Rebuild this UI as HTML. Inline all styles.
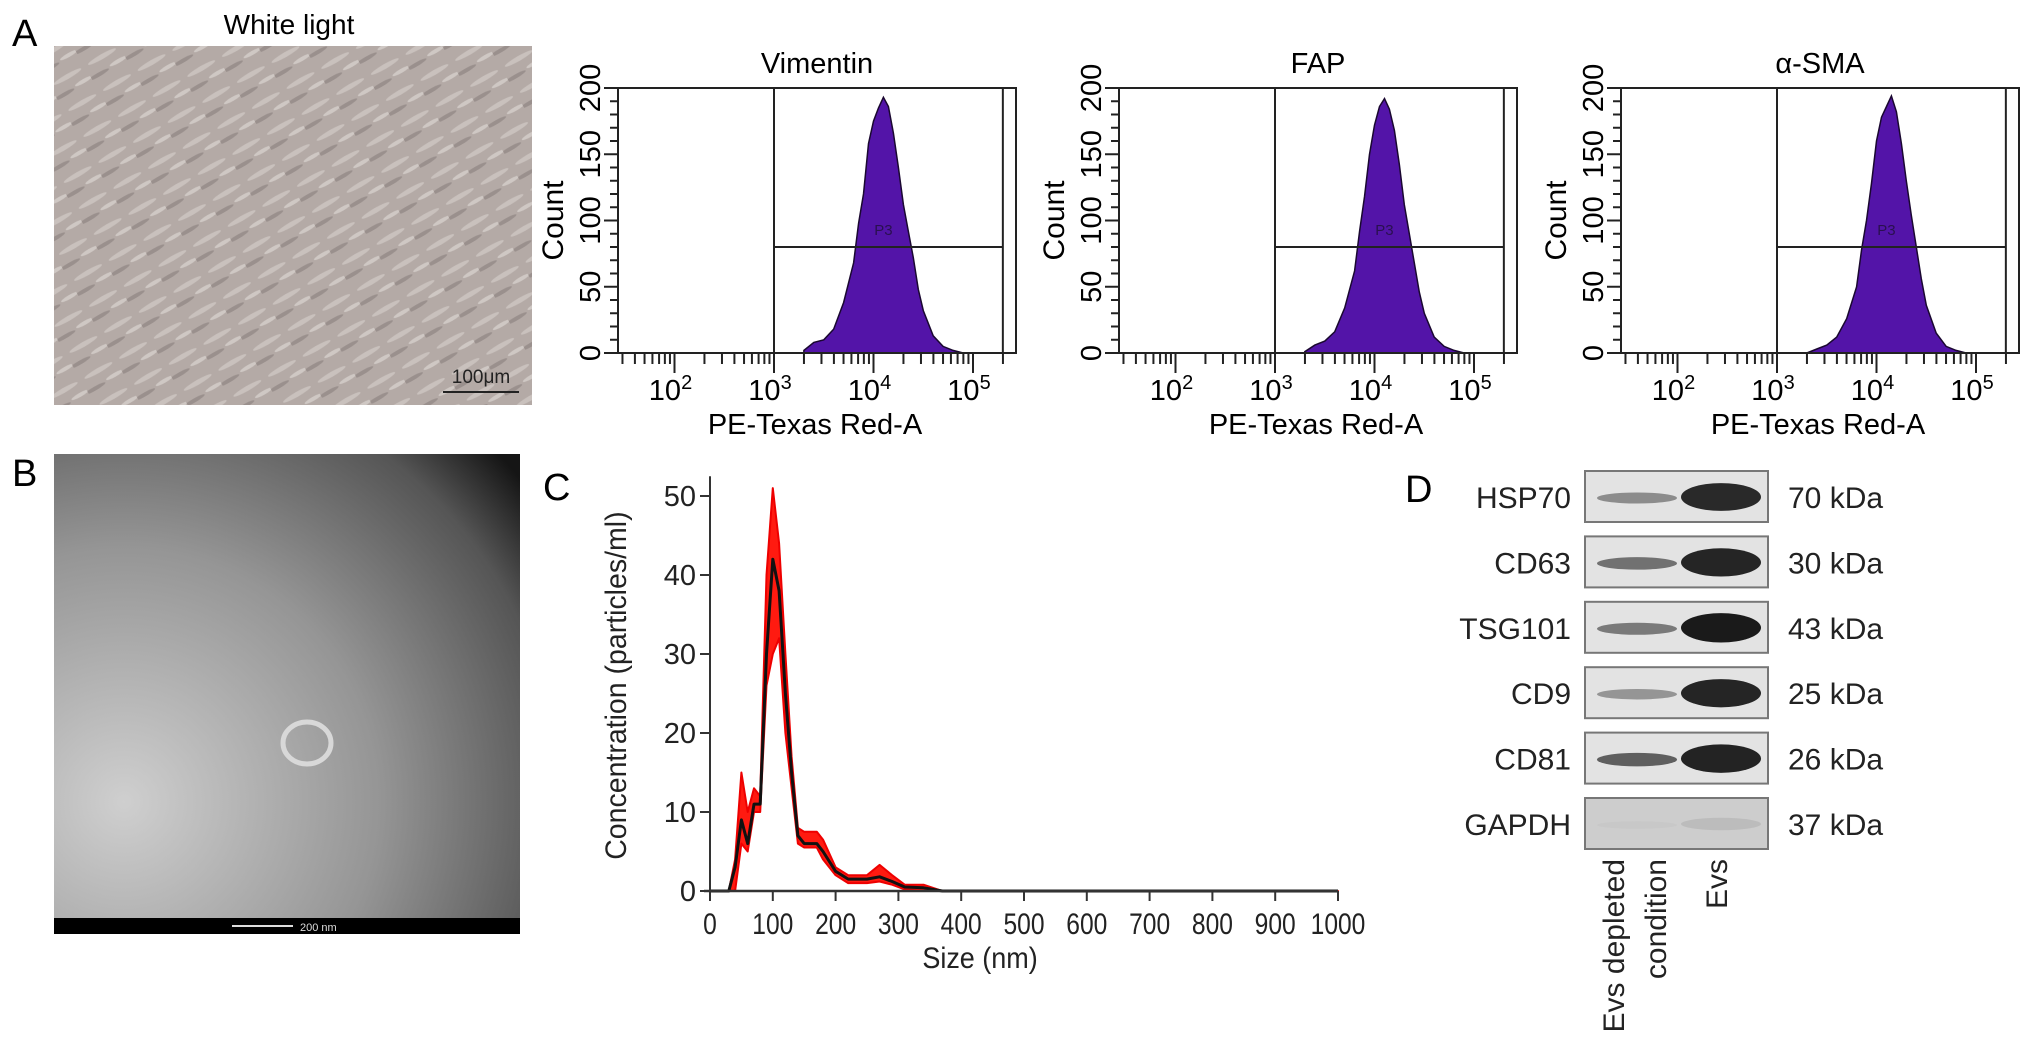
<!DOCTYPE html>
<html><head><meta charset="utf-8"><style>
html,body{margin:0;padding:0;background:#fff;}
svg{display:block;font-family:"Liberation Sans",Arial,sans-serif;}
</style></head><body>
<svg id="fig" width="2032" height="1057" viewBox="0 0 2032 1057" xmlns="http://www.w3.org/2000/svg">
<defs>
<pattern id="cells" width="40" height="30" patternUnits="userSpaceOnUse" patternTransform="rotate(-30)">
<rect width="40" height="30" fill="#b4aaa6"/>
<ellipse cx="20" cy="10" rx="16" ry="2.5" fill="#c9c1bd"/>
<ellipse cx="8" cy="24" rx="12" ry="2" fill="#9a908d"/>
<ellipse cx="32" cy="22" rx="10" ry="2" fill="#cfc8c4"/>
</pattern>
<radialGradient id="tem" cx="0.15" cy="0.75" r="1.1">
<stop offset="0" stop-color="#cfcfcf"/><stop offset="0.5" stop-color="#959595"/><stop offset="0.85" stop-color="#555"/><stop offset="1" stop-color="#151515"/>
</radialGradient>
</defs>
<text x="12" y="46" font-size="38">A</text>
<text x="289" y="34" font-size="28" text-anchor="middle">White light</text>
<rect x="54" y="46" width="478" height="359" fill="url(#cells)"/>
<g>
<text x="481" y="383" font-size="19" text-anchor="middle" fill="#222">100μm</text>
<line x1="443" y1="392" x2="519" y2="392" stroke="#222" stroke-width="2"/>
</g>
<text x="12" y="486" font-size="38">B</text>
<rect x="54" y="454" width="466" height="464" fill="url(#tem)"/>
<ellipse cx="307" cy="743" rx="24" ry="21" fill="none" stroke="#d8d8d8" stroke-width="5"/>
<rect x="54" y="918" width="466" height="16" fill="#000"/>
<line x1="232" y1="926" x2="293" y2="926" stroke="#ddd" stroke-width="2"/>
<text x="300" y="931" font-size="11" fill="#ddd">200 nm</text>
<g id="hist"></g>
<text x="543" y="500" font-size="38">C</text>
<g id="nta"></g>
<text x="1405" y="502" font-size="38">D</text>
<g id="blot"></g>
</svg>
<script>
const NS='http://www.w3.org/2000/svg';
function mk(tag,attrs,parent,text){const e=document.createElementNS(NS,tag);for(const k in attrs)e.setAttribute(k,attrs[k]);if(text!==undefined)e.textContent=text;parent.appendChild(e);return e;}

const histTitles=['Vimentin','FAP','α-SMA'];
const histLog=[3.3,3.4,3.5,3.6,3.7,3.8,3.85,3.9,3.95,4.0,4.05,4.1,4.15,4.2,4.25,4.3,4.35,4.4,4.45,4.5,4.6,4.7,4.8,4.9];
const vimCounts=[2,8,10,18,38,68,98,120,158,175,185,193,186,166,140,112,92,72,48,32,13,5,2,0];
const fapCounts=[1,6,9,16,34,62,92,118,150,172,186,192,184,168,142,112,90,68,46,30,12,5,2,0];
const smaCounts=[0,3,6,12,26,50,78,100,128,160,178,186,194,182,158,130,104,80,56,36,15,5,2,0];
const histCounts=[vimCounts,fapCounts,smaCounts];
const countTicks=[0,50,100,150,200];
const decadeTicks=[2,3,4,5];
const gateLow=3, gateHigh=5.3, gateCount=80;

const hg=document.getElementById('hist');
const offsets=[0,501,1003];
offsets.forEach((off,i)=>{
  const L=618+off,R=1016+off,T=88,B=353;
  const xs=v=>774+off+(v-3)*99.5;
  const ys=c=>B-c/200*(B-T);
  const g=mk('g',{},hg);
  
  
  const t=mk('text',{x:(L+R)/2,y:73,'font-size':29,'text-anchor':'middle'},g,histTitles[i]);
  
  
  let d='M'+xs(histLog[0])+','+B;
  histLog.forEach((v,j)=>{d+=' L'+xs(v).toFixed(1)+','+ys(histCounts[i][j]).toFixed(1);});
  d+=' L'+xs(histLog[histLog.length-1])+','+B+' Z';
  const p=mk('path',{d:d,fill:'#5314a8',stroke:'#1a0830','stroke-width':1.5},g);
  
  
  const fr=mk('rect',{x:L,y:T,width:R-L,height:B-T,fill:'none',stroke:'#222','stroke-width':2},g);
  
  
  mk('line',{x1:xs(gateLow),y1:T,x2:xs(gateLow),y2:B,stroke:'#222','stroke-width':2},g);
  mk('line',{x1:xs(gateHigh),y1:T,x2:xs(gateHigh),y2:B,stroke:'#222','stroke-width':2},g);
  const gl=mk('line',{x1:xs(gateLow),y1:ys(gateCount),x2:xs(gateHigh),y2:ys(gateCount),stroke:'#222','stroke-width':2},g);
  
  
  mk('text',{x:xs(4.1),y:ys(gateCount)-12,'font-size':15,'text-anchor':'middle',fill:'#2a1050'},g,'P3');
  for(let c=0;c<=200;c+=10){mk('line',{x1:L-(c%50===0?14:8),y1:ys(c),x2:L,y2:ys(c),stroke:'#222','stroke-width':2},g);}
  countTicks.forEach(c=>{const tt=mk('text',{x:0,y:0,'font-size':29,'text-anchor':'middle',transform:`translate(${L-18},${ys(c)}) rotate(-90)`},g,String(c));
    
    });
  const yl=mk('text',{x:0,y:0,'font-size':30,'text-anchor':'middle',transform:`translate(${L-55},${(T+B)/2}) rotate(-90)`},g,'Count');
  
  
  for(let dec=1;dec<=5;dec++){for(let m=1;m<10;m++){const v=dec+Math.log10(m);const x=xs(v);if(x<L||x>R)continue;mk('line',{x1:x,y1:B,x2:x,y2:B+(m===1?20:11),stroke:'#222','stroke-width':2},g);}}
  decadeTicks.forEach(v=>{const tx=mk('text',{x:xs(v)-4,y:400,'font-size':29,'text-anchor':'middle'},g);
    
    
    mk('tspan',{},tx,'10');mk('tspan',{dy:-11,'font-size':20},tx,String(v));});
  const xl=mk('text',{x:(L+R)/2-2,y:434,'font-size':29,'text-anchor':'middle'},g,'PE-Texas Red-A');
  
  
});

const sizeNm=[0,30,40,50,60,70,80,90,100,110,120,130,140,150,170,180,200,220,250,270,290,310,340,370,1000];
const meanConc=[0,0,3,9,6,11,11,30,42,38,25,15,7,6,6,5,2.5,1.5,1.5,1.8,1.2,0.5,0.4,0,0];
const lowConc=[0,0,0,6,5,10,10,26,30,32,20,13,6,5.5,5.5,4,2,1,1,1.2,0.8,0.2,0,0,0];
const highConc=[0,0,4,15,10,13,12,40,51,44,30,17,8,7.5,7.5,6.5,3,2,2,3.3,2,0.8,0.8,0,0];
const sizeTicks=[0,100,200,300,400,500,600,700,800,900,1000];
const concTicks=[0,10,20,30,40,50];
const ng=document.getElementById('nta');
const X0=710,X1=1338,Y0=891,Y50=496;
const cx=v=>X0+v/1000*(X1-X0), cy=v=>Y0-v/50*(Y0-Y50);
{
let d='M'+cx(sizeNm[0])+','+cy(highConc[0]);
sizeNm.forEach((s,j)=>d+=' L'+cx(s).toFixed(1)+','+cy(highConc[j]).toFixed(1));
for(let j=sizeNm.length-1;j>=0;j--)d+=' L'+cx(sizeNm[j]).toFixed(1)+','+cy(lowConc[j]).toFixed(1);
const band=mk('path',{d:d+' Z',fill:'#ff1a10',stroke:'#e00','stroke-width':2,'stroke-linejoin':'round'},ng);


let m='';sizeNm.forEach((s,j)=>m+=(j?' L':'M')+cx(s).toFixed(1)+','+cy(meanConc[j]).toFixed(1));
const ml=mk('path',{d:m,fill:'none',stroke:'#111','stroke-width':3,'stroke-linejoin':'round'},ng);


const ya=mk('line',{x1:X0,y1:cy(52.5),x2:X0,y2:Y0,stroke:'#333','stroke-width':2},ng);


const xa=mk('line',{x1:X0-6,y1:Y0,x2:X1,y2:Y0,stroke:'#333','stroke-width':2.5},ng);


concTicks.forEach(v=>{mk('line',{x1:X0-10,y1:cy(v),x2:X0,y2:cy(v),stroke:'#333','stroke-width':2},ng);
  const t=mk('text',{x:X0-14,y:cy(v)+10,'font-size':29,'text-anchor':'end',fill:'#222'},ng,String(v));
  
  });
sizeTicks.forEach(v=>{mk('line',{x1:cx(v),y1:Y0,x2:cx(v),y2:Y0+10,stroke:'#333','stroke-width':2},ng);
  const t=mk('text',{x:0,y:0,'font-size':30,'text-anchor':'middle',fill:'#222',transform:`translate(${cx(v)},${934}) scale(0.82,1)`},ng,String(v));
  
  });
const xt=mk('text',{x:0,y:0,'font-size':30,'text-anchor':'middle',fill:'#222',transform:`translate(${cx(430)},968) scale(0.9,1)`},ng,'Size (nm)');


const yt=mk('text',{x:0,y:0,'font-size':30,'text-anchor':'middle',fill:'#222',transform:`translate(626,${cy(26)}) rotate(-90) scale(0.95,1)`},ng,'Concentration (particles/ml)');


}

const proteins=['HSP70','CD63','TSG101','CD9','CD81','GAPDH'];
const kda=['70 kDa','30 kDa','43 kDa','25 kDa','26 kDa','37 kDa'];
const bandIntensityCtrl=[0.5,0.65,0.6,0.45,0.75,0.15];
const bandIntensityEvs=[0.9,0.92,0.97,0.92,0.93,0.2];
const bg=document.getElementById('blot');
proteins.forEach((p,i)=>{
  const y=471+i*65.4;
  const g=mk('g',{},bg);
  
  
  mk('rect',{x:1585,y:y,width:183,height:51,fill:i===5?'#cdcdcd':'#e3e3e3',stroke:'#777','stroke-width':2},g);
  const ic=bandIntensityCtrl[i], ie=bandIntensityEvs[i];
  const c1=Math.round(230-200*ic), c2=Math.round(230-210*ie);
  mk('ellipse',{cx:1637,cy:y+27,rx:40,ry:3+5*ic,fill:`rgb(${c1},${c1},${c1})`,opacity:0.9},g);
  mk('ellipse',{cx:1721,cy:y+26,rx:40,ry:4+11*ie,fill:`rgb(${c2},${c2},${c2})`},g);
  const lt=mk('text',{x:1571,y:y+37,'font-size':30,'text-anchor':'end',fill:'#222'},g,p);
  
  
  const kt=mk('text',{x:1788,y:y+37,'font-size':30,fill:'#222'},g,kda[i]);
  
  
});
const laneLabels=['Evs depleted','condition','Evs'];
const laneX=[1624,1666,1727];
laneLabels.forEach((l,i)=>{
  const t=mk('text',{x:0,y:0,'font-size':30,'text-anchor':'end',fill:'#222',transform:`translate(${laneX[i]},859) rotate(-90)`},bg,l);
  
  
});
</script>
</body></html>
